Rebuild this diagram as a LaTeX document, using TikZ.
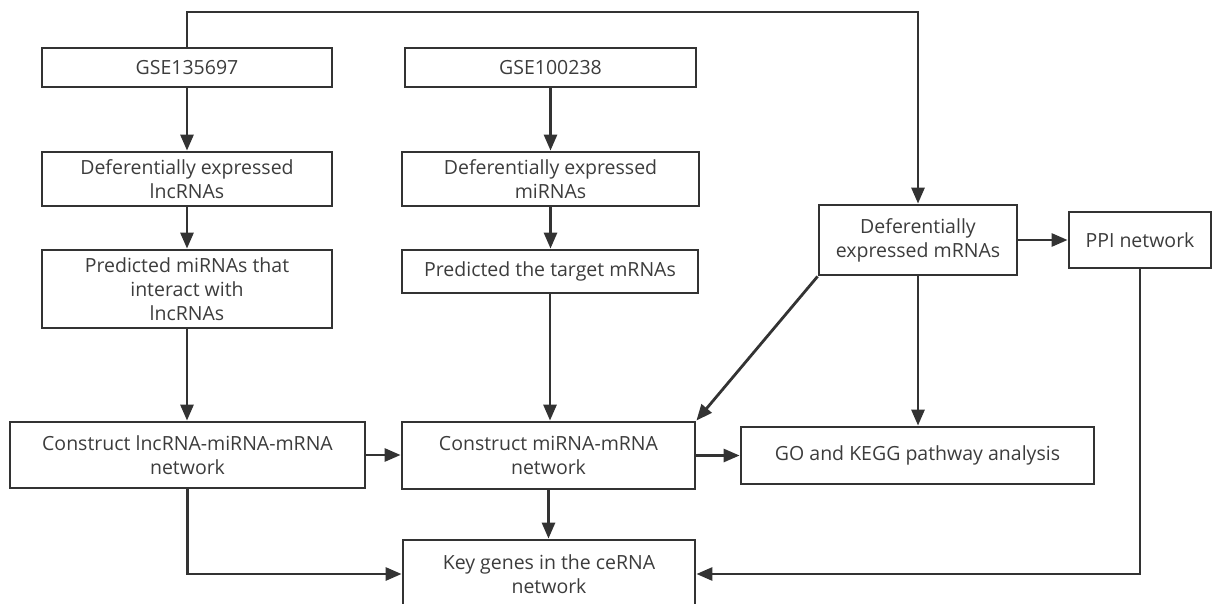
\documentclass[tikz,border=0pt]{standalone}
\usepackage{fontspec}
\setmainfont{Open Sans}
\usetikzlibrary{arrows.meta}
\definecolor{linec}{HTML}{333333}
\definecolor{textc}{HTML}{3C3C3C}
\begin{document}
\begin{tikzpicture}[x=1pt,y=-1pt,
  box/.style={draw=linec,line width=2.8pt,rectangle,inner sep=0pt,align=center,
    text=textc,font=\fontsize{19.5}{24}\selectfont},
  conn/.style={draw=linec,line width=2.8pt,-{Triangle[length=16pt,width=13pt]}}]
\useasboundingbox (0,0) rectangle (1212,604);
\clip (0,0) rectangle (1212,604);
\node[box,minimum width=290,minimum height=39] (g1) at (187,67.5) {GSE135697};
\node[box,minimum width=291,minimum height=39] (g2) at (550.5,67.5) {GSE100238};
\node[box,minimum width=290,minimum height=54] (dl) at (187,179) {Deferentially expressed\\lncRNAs};
\node[box,minimum width=297,minimum height=54] (dm) at (550.5,179) {Deferentially expressed\\miRNAs};
\node[box,minimum width=290,minimum height=78] (pl) at (187,289) {Predicted miRNAs that\\interact with\\lncRNAs};
\node[box,minimum width=296,minimum height=43] (pt) at (550,271.5) {Predicted the target mRNAs};
\node[box,minimum width=198,minimum height=70] (dmr) at (918,240) {Deferentially\\expressed mRNAs};
\node[box,minimum width=142,minimum height=56] (ppi) at (1140,240) {PPI network};
\node[box,minimum width=355,minimum height=66] (cl) at (187.5,455) {Construct lncRNA-miRNA-mRNA\\network};
\node[box,minimum width=293,minimum height=67] (cm) at (548.5,455.5) {Construct miRNA-mRNA\\network};
\node[box,minimum width=353,minimum height=57] (go) at (917.5,455.5) {GO and KEGG pathway analysis};
\node[box,minimum width=292,minimum height=68] (kg) at (549,574) {Key genes in the ceRNA\\network};
\coordinate (top) at (550,12);
\draw[conn] (g1.south) -- (dl.north);
\draw[conn] (dl.south) -- (pl.north);
\draw[conn] (pl.south) -- (pl.south |- cl.north);
\draw[conn] (g2.south) -- (dm.north);
\draw[conn] (dm.south) -- (dm.south |- pt.north);
\draw[conn] (pt.south) -- (pt.south |- cm.north);
\draw[conn] (cl.east) -- (cl.east -| cm.west);
\draw[conn] (cm.east) -- (cm.east -| go.west);
\draw[conn] (cm.south) -- (cm.south |- kg.north);
\draw[conn] (dmr.south) -- (dmr.south |- go.north);
\draw[conn] (dmr.east) -- (ppi.west);
\draw[conn] (dmr.south west) -- (cm.north east);
\draw[conn] (cl.south) |- (kg.west);
\draw[conn] (ppi.south) |- (kg.east);
\draw[conn] (g1.north) -- (g1.north |- top) -| (dmr.north);
\end{tikzpicture}
\end{document}
